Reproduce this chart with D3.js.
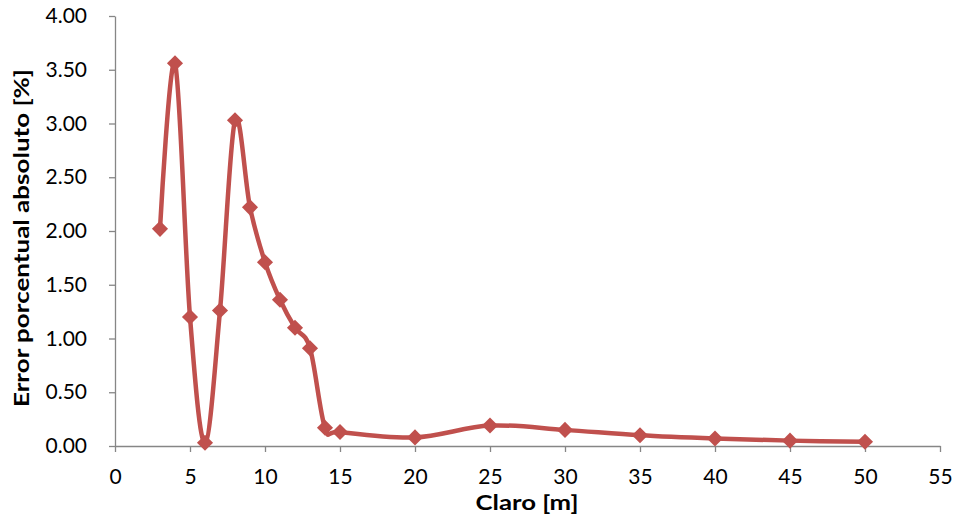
<!DOCTYPE html>
<html><head><meta charset="utf-8">
<script src="https://cdn.jsdelivr.net/npm/d3@7"></script>
<style>body{margin:0;background:#fff;}svg{display:block;font-family:Lato,"Open Sans",sans-serif;}</style>
</head><body>
<svg id="c" width="961" height="523"></svg>
<script>
const claro = [3,4,5,6,7,8,9,10,11,12,13,14,15,20,25,30,35,40,45,50];
const errorPct = [2.02,3.56,1.20,0.03,1.26,3.03,2.22,1.71,1.36,1.10,0.91,0.17,0.13,0.08,0.19,0.15,0.10,0.07,0.05,0.04];
const xTicks = [0,5,10,15,20,25,30,35,40,45,50,55];
const yTicks = [0,0.5,1,1.5,2,2.5,3,3.5,4];
const xTitle = "Claro [m]";
const yTitle = "Error porcentual absoluto [%]";

const svg = d3.select("#c");
const x = d3.scaleLinear().domain([0,55]).range([115,940]);
const y = d3.scaleLinear().domain([0,4]).range([446,16]);
const axisColor = "#868686";

const gx = svg.append("g").attr("transform","translate(0,446)")
  .call(d3.axisBottom(x).tickValues(xTicks).tickSize(6).tickSizeOuter(0).tickPadding(17).tickFormat(d3.format("d")));
const gy = svg.append("g").attr("transform","translate(115,0)")
  .call(d3.axisLeft(y).tickValues(yTicks).tickSize(6).tickSizeOuter(0).tickPadding(22).tickFormat(d3.format(".2f")));
[gx,gy].forEach(g=>{
  g.select(".domain").attr("stroke",axisColor).attr("stroke-width",1.3);
  g.selectAll(".tick line").attr("stroke",axisColor).attr("stroke-width",1.3);
  g.selectAll(".tick text").attr("fill","#000").style("font-size","21px").style("font-family","Lato,'Open Sans',sans-serif");
});

const data = claro.map((c,i)=>({c, v:errorPct[i]}));
const line = d3.line().x(d=>x(d.c)).y(d=>y(d.v)).curve(d3.curveCatmullRom.alpha(0));
svg.append("path").datum(data).attr("d",line).attr("fill","none")
  .attr("stroke","#C0504D").attr("stroke-width",4.5).attr("stroke-linejoin","round");
svg.append("g").selectAll("path").data(data).join("path")
  .attr("d", d3.symbol().type(d3.symbolDiamond2).size(165))
  .attr("transform", d=>`translate(${x(d.c)},${y(d.v)})`)
  .attr("fill","#C0504D");

svg.append("text").attr("x",527).attr("y",510).attr("text-anchor","middle")
  .attr("textLength",103).attr("lengthAdjust","spacingAndGlyphs")
  .style("font-size","21px").style("font-weight","bold").text(xTitle);
svg.append("text").attr("transform","translate(29,238) rotate(-90)").attr("text-anchor","middle")
  .attr("textLength",338).attr("lengthAdjust","spacingAndGlyphs")
  .style("font-size","21px").style("font-weight","bold").text(yTitle);
</script>
</body></html>
